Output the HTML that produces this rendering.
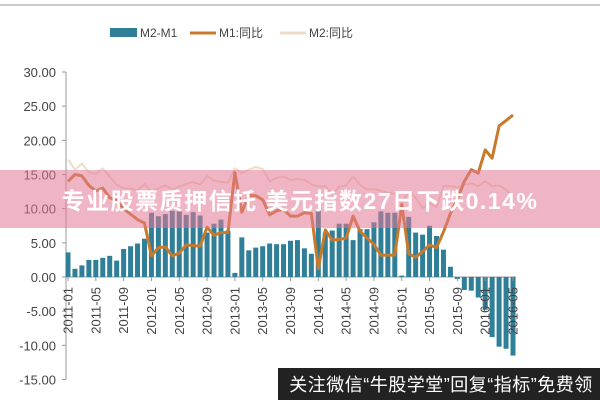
<!DOCTYPE html>
<html><head><meta charset="utf-8"><style>
body{margin:0;width:600px;height:400px;overflow:hidden;background:#fff;font-family:"Liberation Sans","Noto Sans CJK SC",sans-serif}
</style></head><body>
<svg id="c" width="600" height="400" xmlns="http://www.w3.org/2000/svg">
<line x1="0" y1="5" x2="600" y2="5" stroke="#ccc" stroke-width="2"/>
<g>
<rect x="110" y="28" width="27" height="9" fill="#2f7f98"/>
<text x="140" y="37" font-size="12" fill="#444">M2-M1</text>
<line x1="190" y1="33" x2="216" y2="33" stroke="#c87a2c" stroke-width="3"/>
<text x="219" y="37" font-size="12" fill="#444">M1:同比</text>
<line x1="280" y1="33" x2="306" y2="33" stroke="#efdcc8" stroke-width="3"/>
<text x="309" y="37" font-size="12" fill="#444">M2:同比</text>
</g>
<g id="plot"></g>
<rect x="0" y="170" width="600" height="58" fill="rgba(228,120,150,0.55)"/>
<text x="300" y="209" text-anchor="middle" font-size="23" font-weight="bold" letter-spacing="1.5" fill="#fff">专业股票质押信托 美元指数27日下跌0.14%</text>
<rect x="278" y="368" width="322" height="32" fill="#222"/>
<text x="441" y="391" text-anchor="middle" font-size="18" letter-spacing="0.5" fill="#fff">关注微信“牛股学堂”回复“指标”免费领</text>
</svg>
<script>
const months=[];for(let y=2011;y<=2016;y++)for(let m=1;m<=12;m++){if(y===2016&&m>5)break;months.push(y+'-'+String(m).padStart(2,'0'));}
const yTicks=[30,25,20,15,10,5,0,-5,-10,-15];
const m2m1=[3.6,1.2,1.7,2.5,2.5,2.8,3.1,2.4,4.1,4.5,4.9,5.6,
9.4,8.9,9.2,9.7,9.6,9.1,9.5,9.0,6.5,7.8,8.4,6.8,
0.6,5.8,3.9,4.3,4.5,4.9,4.8,4.8,5.3,5.4,4.2,3.4,
9.8,6.5,6.8,7.8,7.8,5.4,7.0,7.0,8.0,9.6,9.4,9.4,
0.2,8.8,6.5,6.2,7.5,6.0,4.0,1.5,-0.3,-1.9,-2.0,-3.0,
-4.8,-8.8,-10.2,-10.5,-11.5];
const m1=[14,15,14.8,13.4,12.6,13,11.6,11.2,10,9.2,8.4,7.9,
3.1,4.3,4.4,3.1,3.5,4.7,4.6,4.5,7.3,6.1,6.5,6.5,
15.3,9.5,11.9,11.9,11.3,9.1,9.7,9.9,8.9,8.9,9.4,9.3,
1.2,6.9,5.4,5.5,5.7,8.9,6.7,5.7,4.8,3.2,3.2,3.2,
10.6,3.4,2.9,3.7,4.7,4.3,6.6,9.3,11.4,14.0,15.7,15.2,
18.6,17.4,22.1,22.9,23.7];
const m2=[17.2,15.7,16.6,15.3,15.1,15.9,14.7,13.5,13.0,12.9,12.7,13.6,
12.4,13.0,13.4,12.8,13.2,13.6,13.9,13.5,14.8,14.1,13.9,13.8,
15.9,15.2,15.7,16.1,15.8,14.0,14.5,14.7,14.2,14.3,14.2,13.6,
13.2,13.3,12.1,13.2,13.4,14.7,13.5,12.8,12.9,12.6,12.3,12.2,
10.8,12.5,11.6,10.1,10.8,10.2,13.3,13.3,13.1,13.5,13.7,13.3,
14.0,13.3,13.4,12.8,11.8];
const NS='http://www.w3.org/2000/svg';
const g=document.getElementById('plot');
const X=i=>68+i*(513-68)/64;
const Y=v=>277-v*(277-72)/30;
function el(t,a){const e=document.createElementNS(NS,t);for(const k in a)e.setAttribute(k,a[k]);g.appendChild(e);return e;}
let e=el('line',{x1:66,y1:Y(30),x2:66,y2:Y(-15),stroke:'#999'});


yTicks.forEach(v=>{
 let t=el('text',{x:56,y:Y(v)+5,'text-anchor':'end','font-size':13,fill:'#444'});t.textContent=v.toFixed(2);
 
 
 let l=el('line',{x1:62,y1:Y(v),x2:66,y2:Y(v),stroke:'#999'});
 
 
});
e=el('line',{x1:66,y1:Y(0),x2:516,y2:Y(0),stroke:'#999'});


const bw=5;
m2m1.forEach((v,i)=>{
 const y0=Y(Math.max(v,0)),h=Math.abs(Y(v)-Y(0));
 let r=el('rect',{x:X(i)-bw/2,y:y0,width:bw,height:h,fill:'#2f7f98'});
 
 
});
function line(d,c,w,n){let p=el('polyline',{points:d.map((v,i)=>X(i)+','+Y(v)).join(' '),fill:'none',stroke:c,'stroke-width':w,'stroke-linejoin':'round'});
 
 }
line(m2,'#efdcc8',2,'m2-yoy-line');
line(m1,'#c87a2c',3,'m1-yoy-line');
months.forEach((m,i)=>{if(i%4)return;
 let l=el('line',{x1:X(i),y1:Y(0),x2:X(i),y2:Y(0)+4,stroke:'#999'});
 
 
 let t=el('text',{x:0,y:0,'font-size':13,fill:'#444','text-anchor':'end',transform:`translate(${X(i)+4.5},${Y(0)+10}) rotate(-90)`});t.textContent=m;
 
 
});
</script>
</body></html>
